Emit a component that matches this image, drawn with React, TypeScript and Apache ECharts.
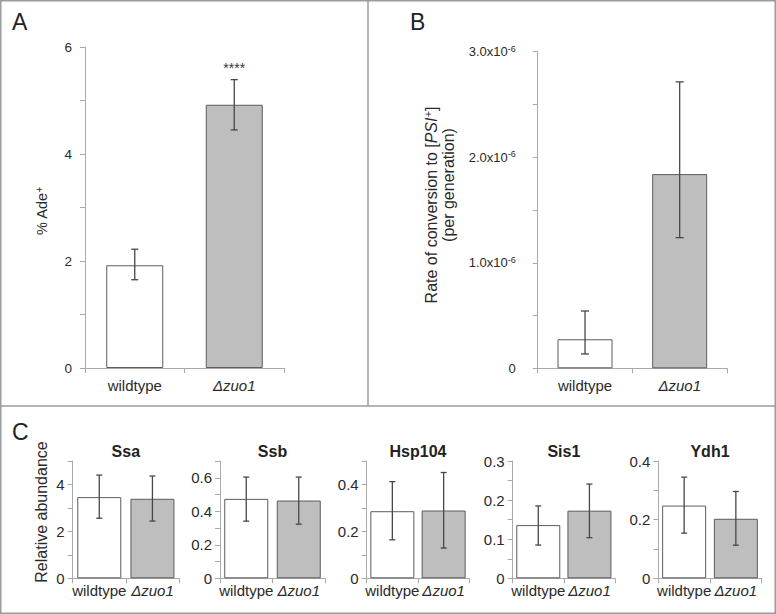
import React, { useEffect, useRef } from 'react';
import * as echarts from 'echarts';

// ---------- data ----------
const categories = ['wildtype', 'Δzuo1'];

// Panel A: % Ade+
const adeMean = [1.92, 4.92];
const adeLow = [1.65, 4.45];
const adeHigh = [2.22, 5.39];
const adeSig = ['', '****'];

// Panel B: rate of conversion to [PSI+] (in units of 1e-6 per generation)
const psiMean = [0.275, 1.84];
const psiLow = [0.136, 1.238];
const psiHigh = [0.543, 2.714];

// Panel C: relative abundance of chaperones
const chaperones = ['Ssa', 'Ssb', 'Hsp104', 'Sis1', 'Ydh1'];
const chapAxisMax = [5, 0.7, 0.5, 0.3, 0.4];
const chapAxisInterval = [1, 0.1, 0.1, 0.05, 0.1];

const ssaMean = [3.46, 3.39];
const ssaLow = [2.56, 2.44];
const ssaHigh = [4.4, 4.36];
const ssbMean = [0.474, 0.464];
const ssbLow = [0.341, 0.323];
const ssbHigh = [0.604, 0.604];
const hsp104Mean = [0.286, 0.289];
const hsp104Low = [0.164, 0.129];
const hsp104High = [0.412, 0.451];
const sis1Mean = [0.136, 0.173];
const sis1Low = [0.085, 0.104];
const sis1High = [0.185, 0.241];
const ydh1Mean = [0.248, 0.203];
const ydh1Low = [0.154, 0.113];
const ydh1High = [0.345, 0.296];

const chapMeans = [ssaMean, ssbMean, hsp104Mean, sis1Mean, ydh1Mean];
const chapLows = [ssaLow, ssbLow, hsp104Low, sis1Low, ydh1Low];
const chapHighs = [ssaHigh, ssbHigh, hsp104High, sis1High, ydh1High];

// ---------- style / layout ----------
const FONT = '"Liberation Sans", Arial, Helvetica, sans-serif';
const AXIS_GRAY = '#a9a9a9';
const TEXT = '#2a2a2a';
const BAR_EDGE = '#5c5c5c';
const ERR = '#474747';
const FILLS = ['#ffffff', '#bebebe'];
const FRAME = '#9c9c9c';

const gridA = { left: 85, top: 47, width: 199, height: 321 };
const gridB = { left: 537.7, top: 51.7, width: 189.3, height: 316.6 };
const gridsC = [
  { left: 72.7, width: 106.3 },
  { left: 220, width: 105 },
  { left: 366.7, width: 102.6 },
  { left: 512.7, width: 102.3 },
  { left: 658.3, width: 103.4 },
];
const C_TOP = 461;
const C_HEIGHT = 117.3;

function catAxis(gridIndex: number, fontSize: number, margin: number) {
  return {
    type: 'category',
    gridIndex,
    data: categories,
    axisLine: { show: true, lineStyle: { color: AXIS_GRAY, width: 1 } },
    axisTick: { show: true, length: 5, alignWithLabel: false, lineStyle: { color: AXIS_GRAY } },
    splitLine: { show: false },
    axisLabel: {
      interval: 0,
      margin,
      formatter: (v: string) => (v === categories[0] ? `{n|${v}}` : `{i|${v}}`),
      rich: {
        n: { fontSize, color: TEXT, fontFamily: FONT },
        i: { fontSize, color: TEXT, fontFamily: FONT, fontStyle: 'italic' },
      },
    },
  };
}

function valAxis(gridIndex: number, max: number, interval: number, formatter: any, fontSize: number, margin: number, rich?: any) {
  return {
    type: 'value',
    gridIndex,
    min: 0,
    max,
    interval,
    axisLine: { show: true, lineStyle: { color: AXIS_GRAY, width: 1 } },
    axisTick: { show: true, length: 5, lineStyle: { color: AXIS_GRAY } },
    splitLine: { show: false },
    axisLabel: { formatter, margin, fontSize, color: TEXT, fontFamily: FONT, rich },
  };
}

function barSeries(idx: number, values: number[], barWidth: number) {
  return {
    type: 'bar',
    xAxisIndex: idx,
    yAxisIndex: idx,
    barWidth,
    data: values.map((v, i) => ({
      value: v,
      itemStyle: { color: FILLS[i], borderColor: BAR_EDGE, borderWidth: 1 },
    })),
  };
}

function errSeries(idx: number, low: number[], high: number[], capHalf: number, sig?: string[]) {
  return {
    type: 'custom',
    xAxisIndex: idx,
    yAxisIndex: idx,
    encode: { x: 0, y: [1, 2] },
    data: low.map((l, i) => [i, l, high[i]]),
    z: 5,
    renderItem: (params: any, api: any) => {
      const x = api.value(0);
      const pLo = api.coord([x, api.value(1)]);
      const pHi = api.coord([x, api.value(2)]);
      const style = { stroke: ERR, lineWidth: 1.3 };
      const children: any[] = [
        { type: 'line', shape: { x1: pLo[0], y1: pLo[1], x2: pHi[0], y2: pHi[1] }, style },
        { type: 'line', shape: { x1: pHi[0] - capHalf, y1: pHi[1], x2: pHi[0] + capHalf, y2: pHi[1] }, style },
        { type: 'line', shape: { x1: pLo[0] - capHalf, y1: pLo[1], x2: pLo[0] + capHalf, y2: pLo[1] }, style },
      ];
      const s = sig ? sig[params.dataIndex] : '';
      if (s) {
        children.push({
          type: 'text',
          style: {
            text: s,
            x: pHi[0],
            y: pHi[1] - 5,
            align: 'center',
            verticalAlign: 'bottom',
            fontSize: 14,
            fontFamily: FONT,
            fill: '#333',
          },
        });
      }
      return { type: 'group', children };
    },
  };
}

const fmtA = (v: number) => (Math.round(v) % 2 === 0 ? String(Math.round(v)) : '');
const fmtB = (v: number) => {
  const k = Math.round(v * 10);
  if (k % 10 !== 0) return '';
  if (k === 0) return '{n|0}';
  return `{n|${(k / 10).toFixed(1)}x10}{s|-6}`;
};
const makeFmtC = (interval: number) => (v: number) => {
  const k = Math.round(v / interval);
  if (k % 2 !== 0) return '';
  if (k === 0) return '0';
  return String(parseFloat(v.toFixed(2)));
};

export default function App() {
  const ref = useRef<HTMLDivElement>(null);
  useEffect(() => {
    if (!ref.current) return;
    const chart = echarts.init(ref.current, undefined, { renderer: 'svg' });

    const grids: any[] = [
      { ...gridA, outerBoundsMode: 'none' },
      { ...gridB, outerBoundsMode: 'none' },
      ...gridsC.map((g) => ({ ...g, top: C_TOP, height: C_HEIGHT, outerBoundsMode: 'none' })),
    ];

    const xAxes: any[] = [catAxis(0, 15, 10), catAxis(1, 15, 10), ...gridsC.map((_, i) => catAxis(i + 2, 15, 5))];
    const yAxes: any[] = [
      valAxis(0, 6, 1, fmtA, 13.5, 13),
      valAxis(1, 3, 0.5, fmtB, 13, 22, {
        n: { fontSize: 13, color: TEXT, fontFamily: FONT, lineHeight: 15 },
        s: { fontSize: 9, color: TEXT, fontFamily: FONT, verticalAlign: 'top', lineHeight: 9 },
      }),
      ...chaperones.map((_, i) => valAxis(i + 2, chapAxisMax[i], chapAxisInterval[i], makeFmtC(chapAxisInterval[i]), 15, 8)),
    ];

    const series: any[] = [
      barSeries(0, adeMean, 57),
      errSeries(0, adeLow, adeHigh, 3.5, adeSig),
      barSeries(1, psiMean, 55),
      errSeries(1, psiLow, psiHigh, 4),
    ];
    chaperones.forEach((_, i) => {
      series.push(barSeries(i + 2, chapMeans[i], 44));
      series.push(errSeries(i + 2, chapLows[i], chapHighs[i], 3));
    });

    const titles: any[] = [
      { text: 'A', left: 12, top: 10, padding: 0, textStyle: { fontSize: 23, fontWeight: 'normal', color: '#222', fontFamily: FONT } },
      { text: 'B', left: 410, top: 10, padding: 0, textStyle: { fontSize: 23, fontWeight: 'normal', color: '#222', fontFamily: FONT } },
      { text: 'C', left: 12, top: 420, padding: 0, textStyle: { fontSize: 23, fontWeight: 'normal', color: '#222', fontFamily: FONT } },
      ...chaperones.map((name, i) => ({
        text: name,
        left: gridsC[i].left + gridsC[i].width / 2,
        top: 443,
        textAlign: 'center',
        padding: 0,
        textStyle: { fontSize: 16, fontWeight: 'bold', color: '#222', fontFamily: FONT },
      })),
    ];

    const graphic: any[] = [
      { type: 'rect', shape: { x: 0.75, y: 0.75, width: 774.5, height: 612.5 }, style: { fill: 'none', stroke: FRAME, lineWidth: 1.5 }, silent: true },
      { type: 'line', shape: { x1: 368, y1: 0, x2: 368, y2: 406 }, style: { stroke: FRAME, lineWidth: 1.5 }, silent: true },
      { type: 'line', shape: { x1: 0, y1: 406, x2: 776, y2: 406 }, style: { stroke: FRAME, lineWidth: 1.5 }, silent: true },
      {
        type: 'text', x: 42, y: 211, rotation: Math.PI / 2, silent: true,
        style: {
          text: '{b|% Ade}{s|+}', align: 'center', verticalAlign: 'middle',
          rich: {
            b: { fontSize: 14.5, fill: TEXT, fontFamily: FONT, lineHeight: 16 },
            s: { fontSize: 10, fill: TEXT, fontFamily: FONT, verticalAlign: 'top', lineHeight: 10 },
          },
        },
      },
      {
        type: 'text', x: 431.5, y: 205, rotation: Math.PI / 2, silent: true,
        style: {
          text: '{b|Rate of conversion to [}{i|PSI}{s|+}{b|]}', align: 'center', verticalAlign: 'middle',
          rich: {
            b: { fontSize: 16, fill: TEXT, fontFamily: FONT, lineHeight: 18 },
            i: { fontSize: 16, fill: TEXT, fontFamily: FONT, fontStyle: 'italic', lineHeight: 18 },
            s: { fontSize: 11, fill: TEXT, fontFamily: FONT, fontStyle: 'italic', verticalAlign: 'top', lineHeight: 11 },
          },
        },
      },
      {
        type: 'text', x: 448, y: 185, rotation: Math.PI / 2, silent: true,
        style: { text: '(per generation)', align: 'center', verticalAlign: 'middle', fontSize: 16, fill: TEXT, fontFamily: FONT },
      },
      {
        type: 'text', x: 41.7, y: 512, rotation: Math.PI / 2, silent: true,
        style: { text: 'Relative abundance', align: 'center', verticalAlign: 'middle', fontSize: 16, fill: TEXT, fontFamily: FONT },
      },
    ];

    chart.setOption({
      animation: false,
      backgroundColor: '#ffffff',
      textStyle: { fontFamily: FONT },
      title: titles,
      grid: grids,
      xAxis: xAxes,
      yAxis: yAxes,
      series,
      graphic,
    });
    return () => chart.dispose();
  }, []);
  return <div ref={ref} style={{ position: 'absolute', left: 0, top: 0, width: 776, height: 614 }} />;
}
